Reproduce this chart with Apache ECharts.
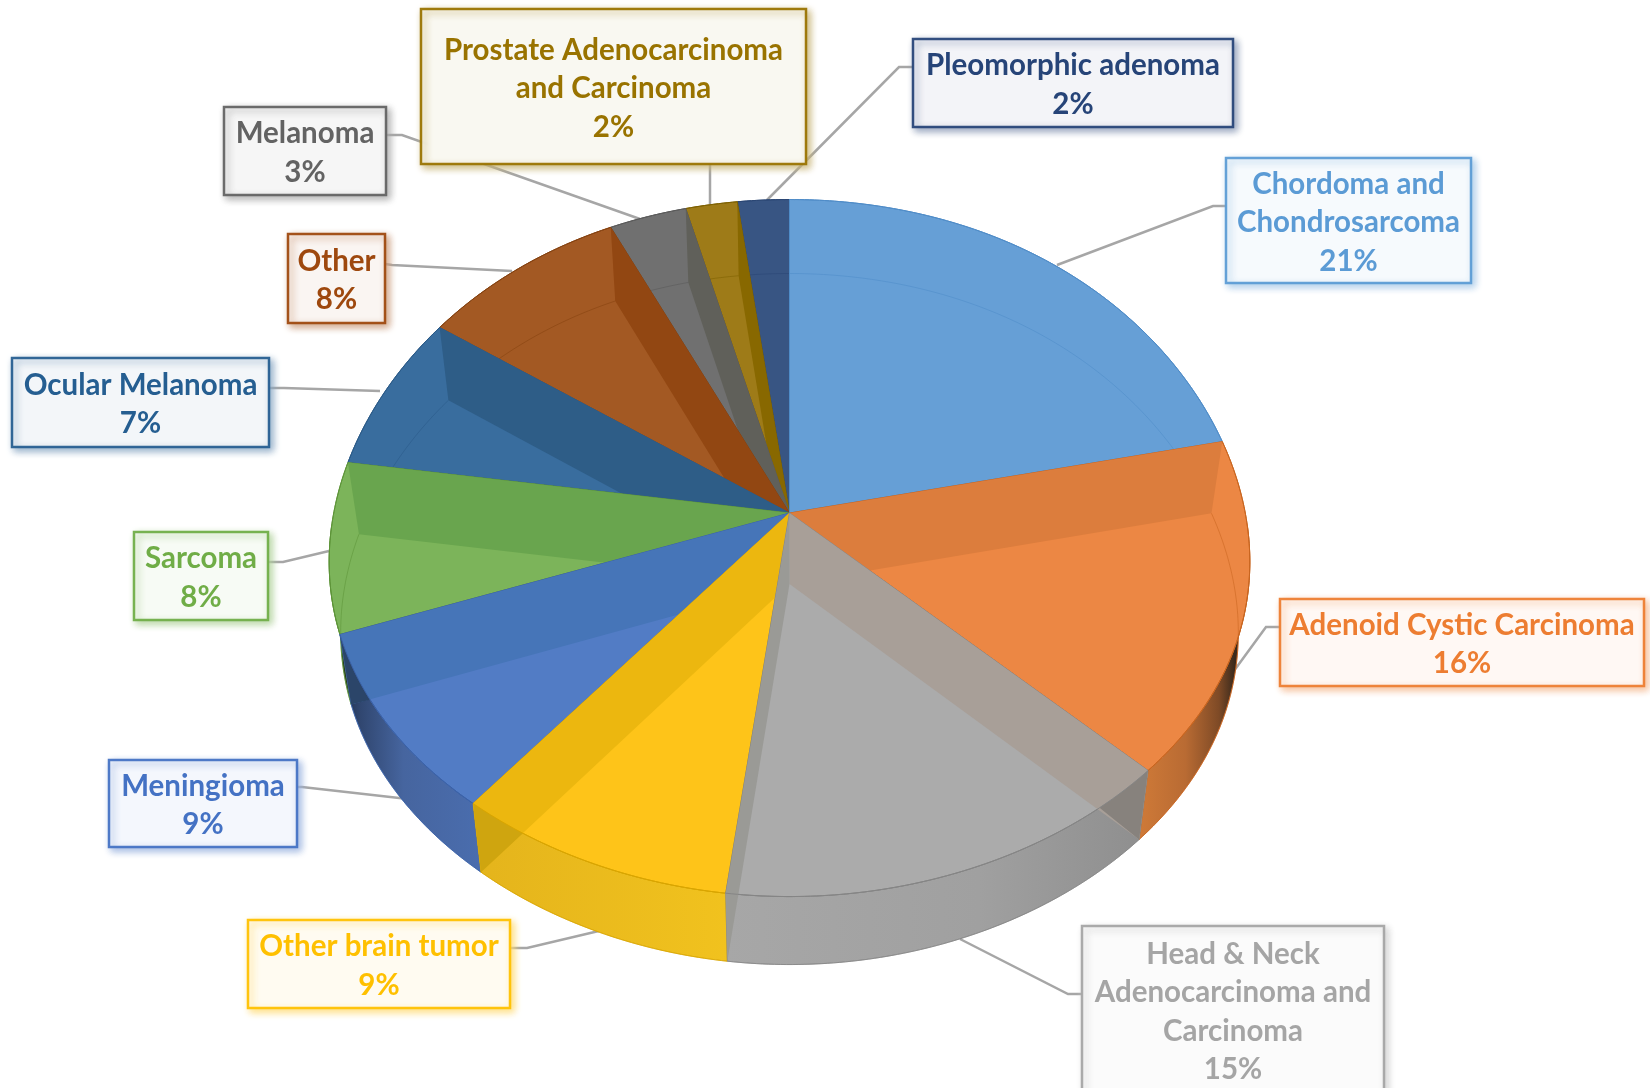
<!DOCTYPE html>
<html>
<head>
<meta charset="utf-8">
<title>Tumor types</title>
<script src="https://cdn.jsdelivr.net/npm/echarts@6/dist/echarts.min.js"></script>
<style>
html,body{margin:0;padding:0;background:#fff;overflow:hidden}
#chart{width:1650px;height:1088px}
</style>
</head>
<body>
<div id="chart"></div>
<script>
// Shares in clockwise order from twelve o'clock
const categories = [
  'Chordoma and\nChondrosarcoma',
  'Adenoid Cystic Carcinoma',
  'Head & Neck\nAdenocarcinoma and\nCarcinoma',
  'Other brain tumor',
  'Meningioma',
  'Sarcoma',
  'Ocular Melanoma',
  'Other',
  'Melanoma',
  'Prostate Adenocarcinoma\nand Carcinoma',
  'Pleomorphic adenoma'
];
const shares = [21, 16, 15, 9, 9, 8, 7, 8, 3, 2, 2];

// Colours, same order as the shares
const labelColours = ['#5B9BD5','#ED7D31','#A5A5A5','#FFC000','#4472C4','#70AD47','#255E91','#9E480E','#636363','#997300','#264478'];
const faceColours  = ['#669FD6','#EC8744','#ABABAB','#FEC419','#527CC5','#7CB45A','#396D9E','#A35923','#707070','#9E7B18','#385583'];
const wallColours  = ['#5E95CC','#DC7D3D','#A89F98','#ECB70F','#4675B8','#69A54E','#2E5D87','#924712','#60605A','#886800','#385583'];
const edgeColours  = ['#4F8CC8','#C9651F','#858585','#D9A500','#3B62A8','#5D9438','#2A5A88','#85410F','#5A5A5A','#7E6000','#2A4674'];
const rimStops = [
  null, [[0,'#CF7A38'],[0.42,'#B96B33'],[0.72,'#7E4A26'],[0.86,'#3B2A1C'],[1,'#3B2A1C']],
  [[0,'#A7A7A7'],[0.6,'#A0A0A0'],[1,'#8E8E8E']],
  [[0,'#E4B41C'],[1,'#F1C21E']],
  [[0,'#1D2D47'],[0.14,'#30466F'],[0.45,'#46659F'],[1,'#4A6DAE']],
  [[0,'#22301A'],[1,'#2C3D22']],
  null, null, null, null, null
];
// Shade of the cut wall where it passes in front of the outer rim
const wallOnRimColours = [null,null,'#87827D','#CFA50F','#2B4569',null,null,null,null,null,null];
// Which radial cut wall of a slice shows through: start, end, or both
const showsStartWall = [false,true,true,false,false,false,false,false,false,false,false];
const showsEndWall   = [false,false,true,true,true,true,true,true,true,true,false];
// Back-to-front painting sequence of the slices
const paintOrder = [10,9,8,7,6,5,4,3,0,1,2];

// Projection of the tilted disc
const CX = 789.5, CY = 513, RX = 458, RY = 345, PERSPECTIVE = 0.1005, SAG = 14;
const FLOOR_SCALE = 0.975, FLOOR_DROP = 71, FLOOR_TILT = 3;

function rimPoint(angle, floor) {
  const u = Math.sin(angle), v = Math.cos(angle);
  const s = 1 / (1 + PERSPECTIVE * v);
  let dx = RX * u * s, dy = -RY * v * s + SAG * (1 - v * v) * (1 - v * v);
  if (floor) { dx *= FLOOR_SCALE; dy += FLOOR_DROP + FLOOR_TILT * v; }
  return [CX + dx, CY + dy];
}
function arc(a0, a1, floor) {
  const n = Math.max(2, Math.ceil(Math.abs(a1 - a0) / 0.012));
  const out = [];
  for (let i = 0; i <= n; i++) out.push(rimPoint(a0 + (a1 - a0) * i / n, floor));
  return out;
}
const TOTAL = shares.reduce((a, b) => a + b, 0);
const startAngles = [];
shares.reduce((sum, v, i) => { startAngles[i] = sum / TOTAL * Math.PI * 2; return sum + v; }, 0);

// The sliver of a cut wall lying outside the top rim: rim from the cut up to
// where the wall's lower edge crosses it, closed at the floor corner
function wallOnRim(a, other, floorApex) {
  const rim = arc(a, other, false), corner = rimPoint(a, true);
  let best = 0, bestDist = Infinity;
  for (let t = 0; t <= 1; t += 0.004) {
    const px = corner[0] + (floorApex[0] - corner[0]) * t;
    const py = corner[1] + (floorApex[1] - corner[1]) * t;
    rim.forEach((p, k) => {
      const d = Math.hypot(p[0] - px, p[1] - py);
      if (d < bestDist) { bestDist = d; best = k; }
    });
  }
  return rim.slice(0, best + 1).concat([corner]);
}

function renderSlice(params) {
  const i = paintOrder[params.dataIndex];
  const a0 = startAngles[i], a1 = a0 + shares[i] / TOTAL * Math.PI * 2;
  const apex = [CX, CY], floorApex = [CX, CY + FLOOR_DROP];
  const kids = [];

  // outer rim below the top face
  if (rimStops[i]) {
    const b0 = Math.max(a0, Math.PI / 2), b1 = Math.min(a1, Math.PI * 1.5);
    kids.push({
      type: 'polygon',
      shape: { points: arc(b0, b1, false).concat(arc(b1, b0, true)) },
      style: {
        fill: { type: 'linear', x: 0, y: 0, x2: 1, y2: 0,
                colorStops: rimStops[i].map(s => ({ offset: s[0], color: s[1] })) },
        stroke: edgeColours[i], lineWidth: 0.8
      }
    });
  }
  // top face
  kids.push({
    type: 'polygon',
    shape: { points: [apex].concat(arc(a0, a1, false)) },
    style: { fill: faceColours[i], stroke: edgeColours[i], lineWidth: 1 }
  });
  // radial cut walls
  const wall = a => ({
    type: 'polygon',
    shape: { points: [apex, rimPoint(a, false), rimPoint(a, true), floorApex] },
    style: { fill: wallColours[i], opacity: 1 }
  });
  if (showsStartWall[i]) kids.push(wall(a0));
  if (showsEndWall[i]) {
    const w = wall(a1);
    if (showsStartWall[i]) w.style.fill = '#9A9A96';
    kids.push(w);
  }
  // darker part of the main cut wall over the outer rim
  if (wallOnRimColours[i]) {
    kids.push({
      type: 'polygon',
      shape: { points: showsStartWall[i] ? wallOnRim(a0, a1, floorApex) : wallOnRim(a1, a0, floorApex) },
      style: { fill: wallOnRimColours[i] }
    });
  }
  // floor ring seen through the body
  kids.push({
    type: 'polyline',
    shape: { points: arc(a0, a1, true) },
    style: { fill: 'none', stroke: edgeColours[i], lineWidth: 1, opacity: 0.55 }
  });
  // the top edge again so it stays crisp above the walls
  kids.push({
    type: 'polyline',
    shape: { points: arc(a0, a1, false) },
    style: { fill: 'none', stroke: edgeColours[i], lineWidth: 1 }
  });
  return { type: 'group', children: kids };
}

// Callouts: box [x, y, w, h], then the leader from box edge through elbow to the pie
const callouts = [
  { box:[1226,158,245,125], line:[[1226,206],[1213,206],[1057,265]] },
  { box:[1280,599,364,87],  line:[[1280,627],[1266,627],[1228,679]] },
  { box:[1082,926,302,180], line:[[1082,994],[1068,994],[960,939]] },
  { box:[248,920,262,88],   line:[[510,948],[527,948],[603,930]] },
  { box:[109,760,188,87],   line:[[297,787],[302,787],[408,799]] },
  { box:[134,532,134,88],   line:[[268,562],[283,562],[329,551]] },
  { box:[12,358,257,89],    line:[[269,388],[284,388],[380,391]] },
  { box:[288,234,97,89],    line:[[385,264],[392,265],[512,271]] },
  { box:[224,107,162,88],   line:[[386,135],[402,135],[640,219]] },
  { box:[421,9,385,155],    line:[[710,164],[710,204]] },
  { box:[913,39,320,88],    line:[[913,67],[899,67],[767,200]] }
];

function renderLeader(params) {
  return {
    type: 'polyline',
    shape: { points: callouts[params.dataIndex].line },
    style: { fill: 'none', stroke: '#A6A6A6', lineWidth: 2.5 }
  };
}
function tint(hex, a) {
  const n = parseInt(hex.slice(1), 16);
  const mix = c => Math.round(255 + (c - 255) * a);
  return 'rgb(' + mix(n >> 16) + ',' + mix((n >> 8) & 255) + ',' + mix(n & 255) + ')';
}
function renderBox(params) {
  const i = params.dataIndex, b = callouts[i].box, c = labelColours[i];
  return {
    type: 'group',
    children: [
      {
        type: 'rect',
        shape: { x: b[0], y: b[1], width: b[2], height: b[3] },
        style: {
          fill: tint(c, 0.025), opacity: 0.94, stroke: c, lineWidth: 2.5,
          shadowColor: tint(c, 0.55), shadowBlur: 7, shadowOffsetX: 3, shadowOffsetY: 3
        }
      },
      {
        type: 'text',
        style: {
          text: categories[i] + '\n' + shares[i] + '%',
          x: b[0] + b[2] / 2,
          y: (i === 2 ? 926 + 84 : b[1] + b[3] / 2) + 2,
          align: 'center', verticalAlign: 'middle',
          fill: c, lineHeight: 38.5,
          fontFamily: 'Lato', fontWeight: 700, fontSize: 29.5
        }
      }
    ]
  };
}

const chart = echarts.init(document.getElementById('chart'), null, { renderer: 'canvas' });
const itemRows = shares.map((v, i) => [i, v]);
chart.setOption({
  animation: false,
  backgroundColor: '#ffffff',
  series: [
    { type: 'custom', name: 'leaders', coordinateSystem: 'none', silent: true, z: 1,
      renderItem: renderLeader, data: itemRows },
    { type: 'custom', name: 'slices', coordinateSystem: 'none', silent: true, z: 2,
      renderItem: renderSlice, data: paintOrder.map(i => [i, shares[i]]) },
    { type: 'custom', name: 'labels', coordinateSystem: 'none', silent: true, z: 3,
      renderItem: renderBox, data: itemRows }
  ]
});
</script>
</body>
</html>
